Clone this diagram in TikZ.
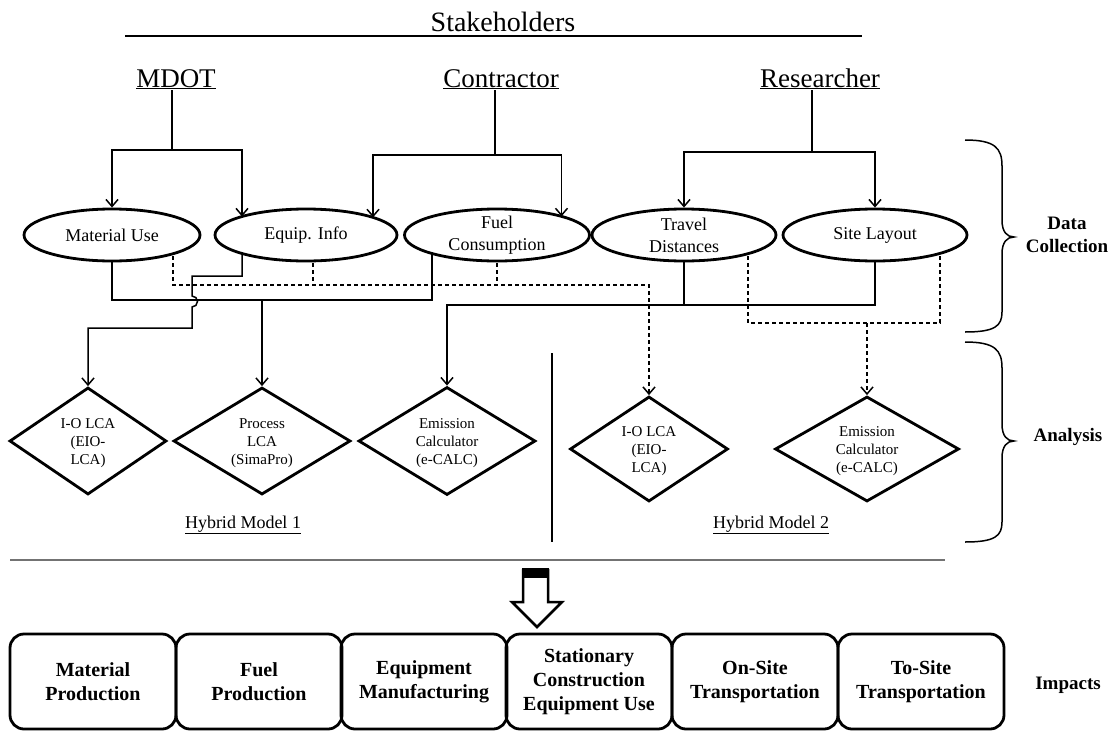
\documentclass[tikz,border=0pt]{standalone}
\usepackage{fontspec}
\setmainfont{Liberation Serif}
\usetikzlibrary{shapes.geometric,arrows.meta,calc}
\pgfdeclarelayer{bg}
\pgfsetlayers{bg,main}
\begin{document}
\begin{tikzpicture}[x=1pt,y=-1pt,
  ell/.style={ellipse, draw, line width=2.8pt, fill=white, inner sep=0pt, minimum height=52pt},
  elbl/.style={align=center, font=\fontsize{18}{22}\selectfont, inner sep=0pt},
  dia/.style={diamond, draw, line width=2.8pt, fill=white, inner sep=0pt},
  dlbl/.style={align=center, font=\fontsize{15}{18}\selectfont, inner sep=0pt, yshift=-2pt},
  conn/.style={line width=1.5pt},
  arr/.style={conn, -{Straight Barb[length=7pt,width=12pt]}},
  dconn/.style={conn, dash pattern=on 4pt off 3pt},
  darr/.style={dconn, -{Straight Barb[length=7pt,width=12pt]}},
  stake/.style={font=\fontsize{27}{30}\selectfont, anchor=base, inner sep=1pt},
  imp/.style={rectangle, rounded corners=14pt, draw, line width=2.8pt, minimum width=166pt, minimum height=95pt, align=center, font=\bfseries\fontsize{20}{24}\selectfont},
  side/.style={align=center, font=\bfseries\fontsize{19}{23}\selectfont},
  hyb/.style={font=\fontsize{18}{22}\selectfont}
]
\useasboundingbox (0,0) rectangle (1108,731);

% Stakeholders
\node[font=\fontsize{28}{32}\selectfont, anchor=base, inner sep=0pt] (stk) at (503,31) {Stakeholders};
\draw[line width=1.4pt] (125,36) -- (862,36);
\node[stake] (mdot) at (176,87) {\underline{MDOT}};
\node[stake] (con) at (501,87) {\underline{Contractor}};
\node[stake] (res) at (820,87) {\underline{Researcher}};
\coordinate (mj) at (172,150);
\coordinate (cj) at (495,155);
\coordinate (rj) at (812,152);

% Data collection ellipses
\node[ell, minimum width=176pt, label={[elbl]center:Material Use}] (mu) at (112,235) {};
\node[ell, minimum width=182pt, label={[elbl]center:Equip. Info}] (ei) at (306,235) {};
\node[ell, minimum width=185pt, label={[elbl]center:{Fuel\\Consumption}}] (fc) at (497,235) {};
\node[ell, minimum width=184pt, label={[elbl]center:{Travel\\Distances}}] (td) at (684,235) {};
\node[ell, minimum width=184pt, label={[elbl]center:Site Layout}] (sl) at (875,235) {};

% Analysis diamonds
\node[dia, minimum width=157pt, minimum height=107pt, label={[dlbl]center:{I-O LCA\\(EIO-\\LCA)}}] (io1) at (88,441) {};
\node[dia, minimum width=177pt, minimum height=107pt, label={[dlbl]center:{Process\\LCA\\(SimaPro)}}] (plca) at (262,441) {};
\node[dia, minimum width=177pt, minimum height=108pt, label={[dlbl]center:{Emission\\Calculator\\(e-CALC)}}] (ec1) at (447,441) {};
\node[dia, minimum width=158pt, minimum height=105pt, label={[dlbl]center:{I-O LCA\\(EIO-\\LCA)}}] (io2) at (649,449) {};
\node[dia, minimum width=184pt, minimum height=105pt, label={[dlbl]center:{Emission\\Calculator\\(e-CALC)}}] (ec2) at (867,449) {};

% stakeholder connectors
\draw[conn] (mdot.south -| mj) -- (mj);
\draw[conn] (con.south -| cj) -- (cj);
\draw[conn] (res.south -| rj) -- (rj);
\draw[arr] (mj) -| (mu.north);
\draw[arr] (mj) -| ($(ei.center)+(-64,-18.5)$);
\draw[arr] (cj) -| ($(ei.center)+(67,-17.6)$);
\draw[arr] (cj) -| ($(fc.center)+(64.5,-18.6)$);
\draw[arr] (rj) -| (td.north);
\draw[arr] (rj) -| (sl.north);

\coordinate (pj) at (262,300);
\coordinate (tj) at (684,305);
\coordinate (dj) at (649,285);
\coordinate (ej) at (867,323);
\coordinate (eid) at ($(ei.center)+(7,0)$);
\coordinate (tdd) at ($(td.center)+(64,0)$);
\coordinate (sld) at ($(sl.center)+(65,0)$);

\begin{pgfonlayer}{bg}
% Hybrid model 1 solid connectors
\draw[conn] (mu.center) |- (pj);
\draw[conn] (pj) -| ($(fc.center)+(-65,0)$);
\draw[arr] (pj) -- (plca.north);
\draw[arr] ($(ei.center)+(-64,0)$) -- ++(0,41) -- ++(-50,0) -- ++(0,20)
  arc[start angle=-90, end angle=90, radius=5.5] -- ++(0,21) -| (io1.north);
\draw[conn] (td.center) -- (tj);
\draw[arr] (sl.center) |- (tj) -| (ec1.north);
% Hybrid model 2 dashed connectors
\draw[darr] ($(mu.center)+(61,0)$) |- (dj) -- (io2.north);
\draw[dconn] (eid) -- (eid |- dj);
\draw[dconn] (fc.center) -- (fc.center |- dj);
\draw[dconn] (tdd) |- (sld |- ej) -- (sld);
\draw[darr] (ej) -- (ec2.north);
\end{pgfonlayer}

% divider and model labels
\draw[conn] (552,353) -- (552,542);
\node[hyb] (hm1) at (243,525) {\underline{Hybrid Model 1}};
\node[hyb] (hm2) at (771,525) {\underline{Hybrid Model 2}};
\draw[line width=2.2pt, black!55] (10,560) -- (945,560);

% braces
\draw[line width=1.5pt] (965,140) .. controls (995,140) and (1002,148) .. (1002,166)
  -- (1002,220) .. controls (1002,232) and (1007,237) .. (1014,237)
  .. controls (1007,237) and (1002,242) .. (1002,254)
  -- (1002,312) .. controls (1002,326) and (995,332) .. (965,332);
\draw[line width=1.5pt] (965,342) .. controls (995,342) and (1002,350) .. (1002,368)
  -- (1002,424) .. controls (1002,436) and (1007,441) .. (1014,441)
  .. controls (1007,441) and (1002,446) .. (1002,458)
  -- (1002,522) .. controls (1002,536) and (995,542) .. (965,542);
\node[side] (dc) at (1067,235) {Data\\Collection};
\node[side] (an) at (1068,437) {Analysis};

% big hollow arrow
\draw[line width=2.5pt, line join=miter] (523,570) -- (548,570) -- (548,602) -- (562,602)
  -- (537,627) -- (512,602) -- (523,602) -- cycle;
\fill (522,568) rectangle (549,578);

% impacts
\node[imp] (b1) at (93,681.5) {Material\\Production};
\node[imp] (b2) at (259,681.5) {Fuel\\Production};
\node[imp] (b3) at (424,681.5) {Equipment\\Manufacturing};
\node[imp] (b4) at (589,681.5) {Stationary\\Construction\\Equipment Use};
\node[imp] (b5) at (755,681.5) {On-Site\\Transportation};
\node[imp] (b6) at (921,681.5) {To-Site\\Transportation};
\node[side] (im) at (1068,685) {Impacts};
\end{tikzpicture}
\end{document}
